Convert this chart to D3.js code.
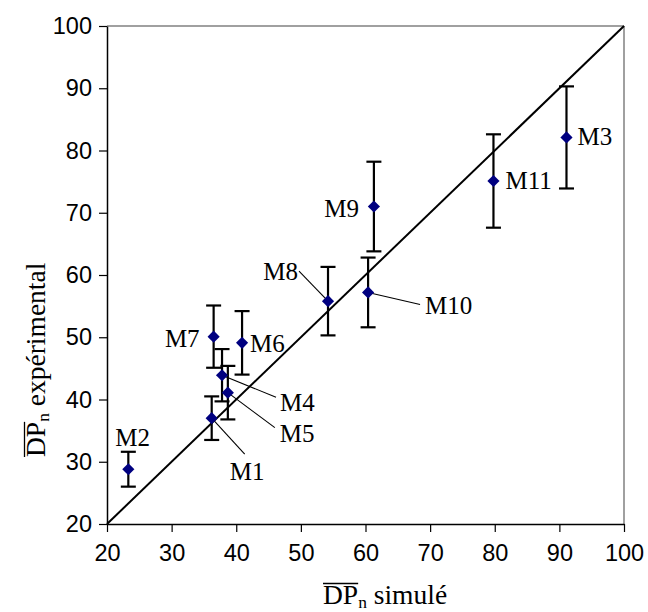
<!DOCTYPE html>
<html>
<head>
<meta charset="utf-8">
<script src="https://cdn.jsdelivr.net/npm/d3@7"></script>
<style>
  html, body { margin: 0; padding: 0; background: #fff; }
  svg { display: block; }
</style>
</head>
<body>
<svg id="chart" width="648" height="612"></svg>
<script>
// ---- data ----
const names = ["M1","M2","M3","M4","M5","M6","M7","M8","M9","M10","M11"];
const simulated = [36.2, 23.3, 91.1, 37.8, 38.7, 40.9, 36.5, 54.2, 61.3, 60.4, 79.8];
const experimental = [37.0, 28.8, 82.1, 43.9, 41.1, 49.1, 50.1, 55.8, 71.0, 57.2, 75.1];
const errors = [3.5, 2.8, 8.2, 4.2, 4.3, 5.1, 5.0, 5.5, 7.2, 5.6, 7.5];
const tickValues = [20, 30, 40, 50, 60, 70, 80, 90, 100];

// ---- label layout (pixel offsets from marker) ----
const labelLayout = {
  M1:  {dx: 18,  dy: 62, anchor: "start", lead: [33, 36]},
  M2:  {dx: -13, dy: -23, anchor: "start"},
  M3:  {dx: 11,  dy: 8,  anchor: "start"},
  M4:  {dx: 58,  dy: 36, anchor: "start", lead: [54, 22]},
  M5:  {dx: 52,  dy: 49, anchor: "start", lead: [47, 35]},
  M6:  {dx: 8,   dy: 9,  anchor: "start"},
  M7:  {dx: -14, dy: 10, anchor: "end"},
  M8:  {dx: -30, dy: -21, anchor: "end", lead: [-29, -30]},
  M9:  {dx: -15, dy: 10, anchor: "end"},
  M10: {dx: 57,  dy: 22, anchor: "start", lead: [52, 12]},
  M11: {dx: 12,  dy: 8,  anchor: "start"}
};

const svg = d3.select("#chart");
const pLeft = 107, pRight = 624, pTop = 26, pBottom = 524;

const x = d3.scaleLinear().domain([20, 100]).range([pLeft, pRight]);
const y = d3.scaleLinear().domain([20, 100]).range([pBottom, pTop]);

// frame: top & right grey
svg.append("line").attr("x1", pLeft).attr("x2", pRight).attr("y1", pTop).attr("y2", pTop)
  .attr("stroke", "#808080").attr("stroke-width", 1.5);
svg.append("line").attr("x1", pRight).attr("x2", pRight).attr("y1", pTop).attr("y2", pBottom)
  .attr("stroke", "#808080").attr("stroke-width", 1.5);

// axes
const xAxis = svg.append("g").attr("transform", `translate(0,${pBottom})`)
  .call(d3.axisBottom(x).tickValues(tickValues).tickSize(8).tickPadding(12).tickSizeOuter(0));
const yAxis = svg.append("g").attr("transform", `translate(${pLeft},0)`)
  .call(d3.axisLeft(y).tickValues(tickValues).tickSize(8).tickPadding(7).tickSizeOuter(0));
[xAxis, yAxis].forEach(g => {
  g.selectAll("path.domain").attr("stroke", "#000").attr("stroke-width", 1.5);
  g.selectAll(".tick line").attr("stroke", "#000").attr("stroke-width", 1.2);
  g.selectAll(".tick text").attr("font-family", "'Liberation Sans', Arial, sans-serif")
    .attr("font-size", 23.5).attr("fill", "#000");
});
xAxis.selectAll(".tick text").attr("dy", "0.71em");

// diagonal y = x
svg.append("line")
  .attr("x1", x(20)).attr("y1", y(20)).attr("x2", x(100)).attr("y2", y(100))
  .attr("stroke", "#000").attr("stroke-width", 2);

const pts = names.map((n, i) => ({name: n, sx: simulated[i], ey: experimental[i], err: errors[i]}));

// leader lines
const leaders = svg.append("g");
pts.forEach(p => {
  const L = labelLayout[p.name];
  if (L.lead) {
    leaders.append("line")
      .attr("x1", x(p.sx)).attr("y1", y(p.ey))
      .attr("x2", x(p.sx) + L.lead[0]).attr("y2", y(p.ey) + L.lead[1])
      .attr("stroke", "#000").attr("stroke-width", 1.1);
  }
});

// error bars
const eb = svg.append("g").attr("stroke", "#000").attr("stroke-width", 2.2).attr("fill", "none");
pts.forEach(p => {
  const cx = x(p.sx), y1 = y(p.ey + p.err), y2 = y(p.ey - p.err);
  eb.append("line").attr("x1", cx).attr("x2", cx).attr("y1", y1).attr("y2", y2);
  eb.append("line").attr("x1", cx - 7.5).attr("x2", cx + 7.5).attr("y1", y1).attr("y2", y1);
  eb.append("line").attr("x1", cx - 7.5).attr("x2", cx + 7.5).attr("y1", y2).attr("y2", y2);
});

// markers
const sym = d3.symbol(d3.symbolSquare, 74);
svg.append("g").selectAll("path").data(pts).join("path")
  .attr("d", sym())
  .attr("transform", d => `translate(${x(d.sx)},${y(d.ey)}) rotate(45)`)
  .attr("fill", "#000080");

// labels
svg.append("g").selectAll("text").data(pts).join("text")
  .attr("x", d => x(d.sx) + labelLayout[d.name].dx)
  .attr("y", d => y(d.ey) + labelLayout[d.name].dy)
  .attr("text-anchor", d => labelLayout[d.name].anchor)
  .attr("font-family", "'Liberation Serif', 'Times New Roman', serif")
  .attr("font-size", 25)
  .attr("fill", "#000")
  .text(d => d.name);

// axis titles with overline on DP
function title(g, rest) {
  const t = g.append("text")
    .attr("font-family", "'Liberation Serif', 'Times New Roman', serif")
    .attr("font-size", 27.5).attr("fill", "#000");
  t.append("tspan").text("DP");
  t.append("tspan").attr("font-size", 17.5).attr("dy", 4).text("n");
  t.append("tspan").attr("dy", -4).text(rest);
  const w = t.node().getSubStringLength(0, 2);
  g.append("line").attr("x1", 0).attr("x2", w).attr("y1", -20.5).attr("y2", -20.5)
    .attr("stroke", "#000").attr("stroke-width", 1.3);
  return t;
}
const xt = svg.append("g").attr("transform", "translate(323,604)");
title(xt, " simulé");
const yt = svg.append("g").attr("transform", "translate(45,457) rotate(-90)");
title(yt, " expérimental");
</script>
</body>
</html>
